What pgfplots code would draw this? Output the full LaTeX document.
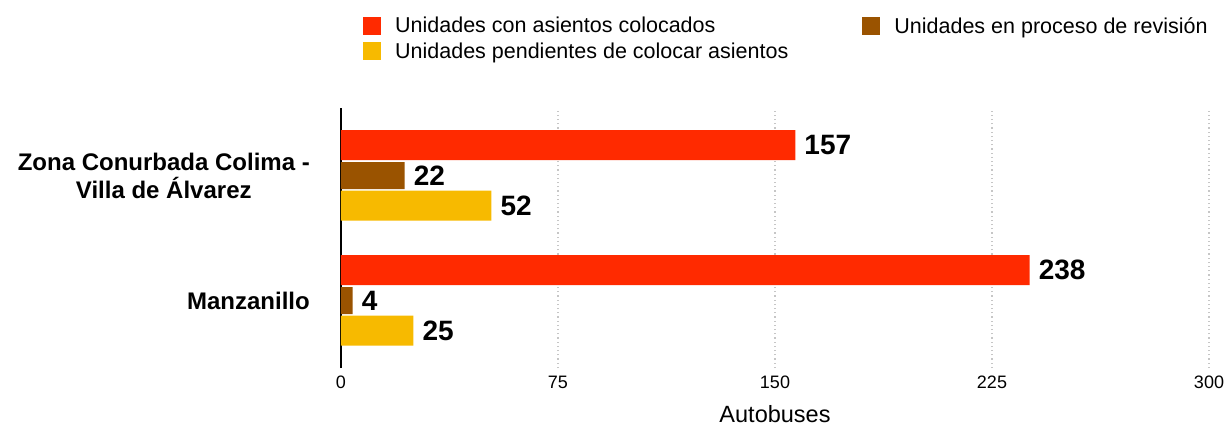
\documentclass[border=0pt]{standalone}
\usepackage{pgfplots}
\pgfplotsset{compat=1.18}
\usepackage{fontspec}
\setmainfont{Liberation Sans}
\definecolor{cRed}{HTML}{FF2A00}
\definecolor{cBrown}{HTML}{9A5300}
\definecolor{cYellow}{HTML}{F7BA00}
\begin{document}
\begin{tikzpicture}
\begin{axis}[
  at={(0pt,0pt)}, anchor=south west,
  scale only axis, width=868pt, height=260pt,
  xbar, xmin=0, xmax=300, ymin=-0.54, ymax=1.54,
  separate axis lines,
  axis x line*=bottom, axis y line*=left,
  x axis line style={draw=none},
  y axis line style={black, line width=2.5pt, -},
  xtick={0,75,150,225,300},
  ytick={0,1},
  yticklabels={Manzanillo, {Zona Conurbada Colima -\\Villa de Álvarez}},
  major tick length=0pt,
  xmajorgrids, grid style={gray!45, line width=1.2pt, dash pattern=on 1.2pt off 3pt},
  /pgf/number format/assume math mode=true,
  xticklabel style={font=\fontsize{18}{20}\selectfont, inner sep=0pt, anchor=north, yshift=-8pt},
  yticklabel style={font=\fontsize{24}{28}\selectfont\bfseries, align=center, inner sep=0pt, anchor=east, xshift=-31pt},
  xlabel={Autobuses},
  xlabel style={font=\fontsize{23.5}{26}\selectfont, inner sep=0pt, yshift=-16pt},
  point meta=x,
  nodes near coords,
  every node near coord/.append style={font=\fontsize{28}{32}\selectfont\bfseries, anchor=west, inner sep=0pt, xshift=9pt, black},
  legend columns=2,
  legend cell align=left,
  legend image code/.code={\fill[#1,draw=none] (0pt,-9pt) rectangle (18pt,9pt);},
  legend style={draw=none, fill=none, at={(rel axis cs:0.0253,1.3577)}, anchor=north west,
    font=\fontsize{21.5}{24}\selectfont, inner sep=0pt, row sep=4pt,
    /tikz/every odd column/.append style={column sep=12pt},
    /tikz/every even column/.append style={column sep=72pt}},
]
\addplot[fill=cRed, draw=none, bar width=30pt, bar shift=30.5pt] coordinates {(238,0) (157,1)};
\addplot[fill=cBrown, draw=none, bar width=27pt, bar shift=0pt] coordinates {(4,0) (22,1)};
\addplot[fill=cYellow, draw=none, bar width=30pt, bar shift=-30pt] coordinates {(25,0) (52,1)};
\legend{Unidades con asientos colocados, Unidades en proceso de revisión, Unidades pendientes de colocar asientos}
\end{axis}
\pgfresetboundingbox
\useasboundingbox (-341pt,-58pt) rectangle (889pt,368pt);
\end{tikzpicture}
\end{document}
